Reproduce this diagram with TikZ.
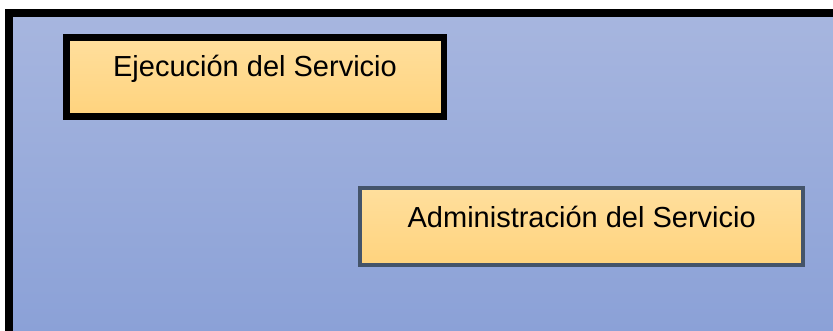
\documentclass[tikz,border=0pt]{standalone}
\usepackage{fontspec}
\setmainfont{Liberation Sans}
\definecolor{bgtop}{RGB}{167,182,223}
\definecolor{bgbot}{RGB}{139,161,215}
\definecolor{boxtop}{RGB}{255,223,157}
\definecolor{boxbot}{RGB}{255,211,125}
\definecolor{slate}{RGB}{68,84,106}
\begin{document}
\begin{tikzpicture}[x=1pt,y=-1pt,
  panel/.style={top color=boxtop,bottom color=boxbot,rectangle,inner sep=0pt},
  lbl/.style={font=\fontsize{29}{34}\selectfont,inner sep=0pt,text=black}]
\useasboundingbox (0,0) rectangle (833,331);
% background panel with gradient
\shade[top color=bgtop,bottom color=bgbot] (9,13) rectangle (833,331);
% thick black frame (left and top edges, the rest is cut off)
\fill[black] (5,9) rectangle (833,17.5);
\fill[black] (5,9) rectangle (13,331);
% boxes
\node[panel,draw=black,line width=6.5pt,minimum width=377.5pt,minimum height=79pt] (b1) at (255,77) {};
\node[lbl,anchor=base] (t1) at (b1.center) {Ejecución del Servicio};
\node[panel,draw=slate,line width=4pt,minimum width=442.7pt,minimum height=77.3pt] (b2) at (581.7,226.7) {};
\node[lbl,anchor=base] (t2) at ([yshift=-0.6pt]b2.center) {Administración del Servicio};
\end{tikzpicture}
\end{document}
